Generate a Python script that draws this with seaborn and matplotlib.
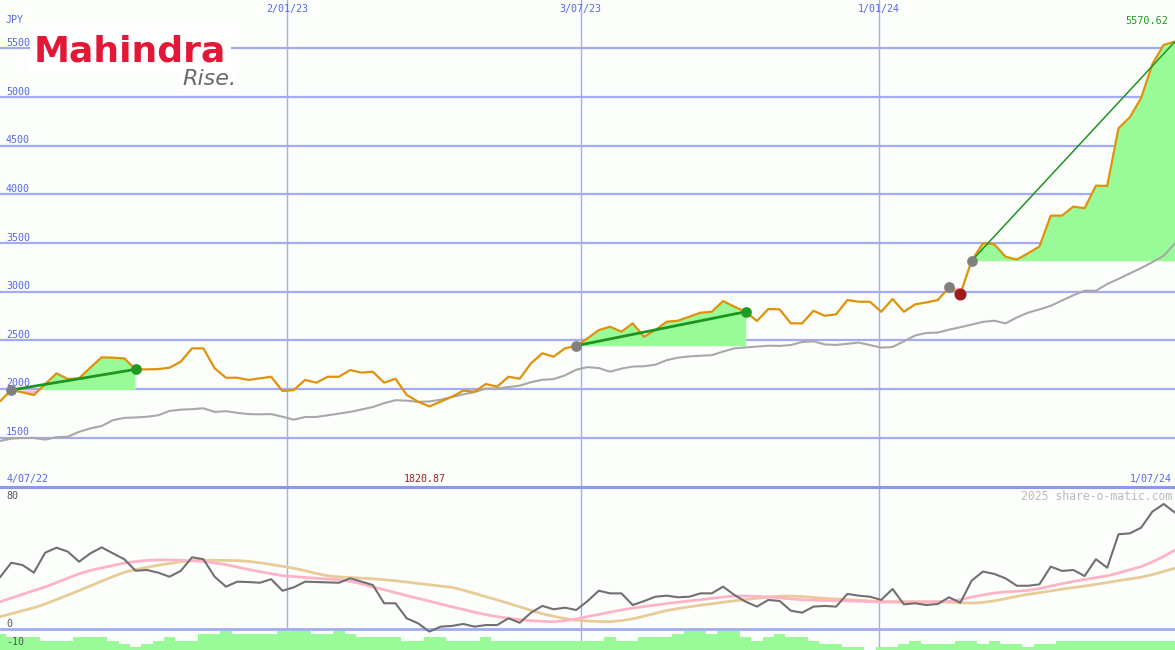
import numpy as np
import seaborn as sns
import matplotlib.pyplot as plt

W, H = 1175, 650

# weekly closes (JPY), 4/07/22 .. 1/07/24
price = [1873, 1990, 1965, 1938, 2050, 2161, 2103, 2110, 2220, 2326,
         2322, 2315, 2202, 2202, 2205, 2219, 2281, 2418, 2418, 2213,
         2116, 2116, 2093, 2110, 2126, 1980, 1990, 2093, 2065, 2126,
         2126, 2195, 2168, 2178, 2065, 2106, 1939, 1870, 1820.87, 1870,
         1921, 1983, 1972, 2051, 2024, 2126, 2106, 2264, 2367, 2332,
         2418, 2445, 2520, 2606, 2640, 2589, 2675, 2537, 2606, 2691,
         2702, 2743, 2784, 2794, 2904, 2846, 2794, 2699, 2822, 2819,
         2675, 2675, 2804, 2753, 2767, 2914, 2897, 2897, 2794, 2925,
         2794, 2870, 2890, 2914, 3045, 2976, 3318, 3498, 3488, 3360,
         3330, 3395, 3465, 3782, 3782, 3875, 3858, 4090, 4087, 4680,
         4793, 4990, 5340, 5537, 5570.62]

# slow moving average (grey)
avg = [1466, 1490, 1497, 1497, 1480, 1505, 1510, 1560, 1595, 1620,
       1680, 1703, 1708, 1715, 1730, 1775, 1788, 1793, 1802, 1765,
       1772, 1755, 1742, 1740, 1742, 1715, 1685, 1712, 1713, 1730,
       1747, 1765, 1790, 1815, 1855, 1885, 1880, 1868, 1872, 1890,
       1918, 1945, 1968, 2005, 2005, 2020, 2035, 2070, 2095, 2102,
       2140, 2198, 2225, 2215, 2178, 2210, 2231, 2234, 2250, 2296,
       2322, 2335, 2342, 2348, 2385, 2418, 2427, 2436, 2445, 2443,
       2452, 2483, 2490, 2458, 2453, 2465, 2477, 2452, 2425, 2432,
       2490, 2550, 2576, 2580, 2610, 2635, 2662, 2690, 2702, 2675,
       2735, 2785, 2818, 2855, 2910, 2963, 3010, 3010, 3079, 3132,
       3188, 3243, 3304, 3370, 3498]

# lower panel oscillator and its two averages
osc = [29.5, 37.7, 36.4, 32.1, 43.4, 46.2, 44.0, 38.3, 43.0, 46.4,
       43.0, 39.7, 33.2, 33.6, 32.1, 29.8, 33.1, 40.8, 39.7, 29.8,
       24.2, 27.0, 26.8, 26.4, 28.4, 21.9, 23.8, 27.0, 26.8, 26.6,
       26.4, 28.9, 27.0, 25.1, 14.8, 14.8, 6.3, 3.5, -1.2, 1.6,
       2.0, 3.1, 1.6, 2.5, 2.5, 6.3, 3.8, 9.5, 13.3, 11.4,
       12.3, 11.0, 16.0, 21.9, 20.4, 20.4, 13.8, 16.0, 18.5, 19.1,
       18.2, 18.5, 20.4, 20.4, 24.2, 19.5, 15.7, 12.9, 16.7, 16.1,
       10.6, 9.5, 12.9, 13.3, 12.9, 20.1, 19.1, 18.5, 16.7, 22.9,
       14.2, 14.8, 13.8, 14.4, 18.2, 15.1, 27.6, 32.7, 31.4, 28.9,
       24.7, 24.7, 25.5, 35.5, 33.1, 33.6, 30.2, 39.7, 34.9, 53.8,
       54.3, 57.5, 66.6, 70.9, 66.0]

osc_fast = [15.7, 17.8, 19.9, 22.0, 24.0, 26.5, 29.0, 31.5, 33.4, 34.8,
            36.2, 37.5, 38.4, 39.0, 39.3, 39.3, 39.1, 38.8, 38.4, 37.6,
            36.6, 35.3, 33.9, 32.7, 31.5, 30.4, 29.9, 29.4, 28.9, 28.5,
            28.1, 27.2, 25.8, 24.0, 22.5, 20.8, 19.1, 17.6, 16.0, 14.4,
            12.8, 11.3, 9.8, 8.4, 7.2, 6.3, 5.6, 4.9, 4.6, 4.4,
            4.9, 6.0, 7.3, 8.5, 9.8, 11.0, 12.1, 13.0, 13.8, 14.6,
            15.4, 16.1, 16.8, 17.6, 18.3, 18.9, 18.9, 18.7, 18.4, 17.9,
            17.3, 16.8, 16.6, 16.4, 16.3, 16.2, 16.0, 15.7, 15.5, 15.5,
            15.4, 15.4, 15.5, 15.7, 15.9, 16.8, 18.3, 19.5, 20.6, 21.2,
            21.6, 22.1, 23.1, 24.5, 25.9, 27.1, 28.2, 29.3, 30.3, 31.9,
            33.7, 35.5, 38.2, 41.3, 44.9]

osc_slow = [7.2, 8.9, 10.6, 12.3, 14.4, 16.9, 19.4, 22.0, 24.6, 27.3,
            29.9, 32.3, 33.8, 35.1, 36.3, 37.3, 38.3, 38.9, 39.1, 39.1,
            39.0, 38.9, 38.5, 37.7, 36.7, 35.7, 34.6, 33.2, 31.6, 30.3,
            29.7, 29.3, 29.0, 28.6, 28.1, 27.5, 26.8, 26.0, 25.3, 24.5,
            23.8, 22.2, 20.4, 18.5, 16.7, 14.8, 12.8, 10.8, 8.9, 7.5,
            6.1, 5.2, 4.8, 4.5, 4.4, 5.0, 6.0, 7.5, 9.1, 10.7,
            11.8, 12.8, 13.7, 14.5, 15.4, 16.2, 16.9, 17.6, 18.3, 18.8,
            18.9, 18.6, 18.1, 17.6, 17.2, 16.9, 16.5, 16.1, 15.7, 15.7,
            15.7, 15.7, 15.7, 15.6, 15.4, 15.1, 14.9, 15.3, 16.2, 17.4,
            18.7, 19.9, 20.8, 21.8, 22.8, 23.7, 24.5, 25.5, 26.5, 27.6,
            28.6, 29.5, 31.0, 32.8, 34.6]

# relative weekly volume level (bottom strip)
vol = [5, 4, 4, 4, 3, 3, 3, 4, 4, 4, 3, 2, 1, 2, 3, 4, 3, 3, 5, 5,
       6, 5, 5, 5, 5, 6, 6, 6, 5, 5, 6, 5, 4, 4, 4, 4, 3, 3, 4, 4,
       3, 3, 3, 4, 3, 3, 3, 3, 3, 3, 3, 3, 3, 3, 4, 3, 3, 4, 4, 4,
       5, 6, 6, 5, 6, 6, 4, 3, 4, 5, 4, 4, 3, 2, 2, 1, 1, 0, 1, 1,
       2, 3, 2, 2, 2, 3, 3, 2, 3, 2, 2, 1, 2, 2, 3, 3, 3, 3, 3, 3,
       3, 3, 3, 3, 3]

# trade signals: (start week, end week, kind)
signals = [(1, 12, 'up'), (51, 66, 'up'), (84, 85, 'down'), (86, 104, 'open')]

y_ticks = [1500, 2000, 2500, 3000, 3500, 4000, 4500, 5000, 5500]
date_grid = [25.4, 51.4, 77.8]
date_labels = ['2/01/23', '3/07/23', '1/01/24']

bg = '#FCFEFC'
grid_c = '#A3ACF2'
blue_txt = '#5566EE'
orange = '#E0920A'
pale_green = '#98FB98'
pink = '#FFB6C1'
trend_green = '#1E951E'

price = np.array(price)
weeks = np.arange(len(price))
vol = np.array(vol)

sns.set_style('white')
plt.rcParams['font.family'] = ['DejaVu Sans Mono']

fig = plt.figure(figsize=(W / 100, H / 100), dpi=100)
fig.patch.set_facecolor(bg)
ax = fig.add_axes([0, 163 / H, 1, 487 / H])
ax2 = fig.add_axes([0, 0, 1, 163 / H])

for a in (ax, ax2):
    a.set_facecolor(bg)
    a.set_xlim(0, len(price) - 1)
    a.set_xticks([])
    a.set_yticks([])
    for s in a.spines.values():
        s.set_visible(False)
    for g in date_grid:
        a.axvline(g, color=grid_c, lw=1, zorder=0)

ax.set_ylim(993, 5998)
ax2.set_ylim(-11.6, 80.5)
# thick separator between the panels
ax2.spines['top'].set_visible(True)
ax2.spines['top'].set_color('#8C98EE')
ax2.spines['top'].set_linewidth(2.2)

# top panel
for v in y_ticks:
    ax.axhline(v, color=grid_c, lw=1.6, zorder=0)
    ax.annotate(str(v), xy=(0, v), xycoords=('axes fraction', 'data'),
                xytext=(4.3, 4), textcoords='offset points',
                va='center', ha='left', fontsize=7.2, color=blue_txt)

for s, e, kind in signals:
    xs = weeks[s:e + 1]
    ys = price[s:e + 1]
    base = price[s]
    ax.fill_between(xs, ys, base, where=ys >= base, interpolate=True,
                    color=pale_green, lw=0, zorder=1)
    ax.fill_between(xs, ys, base, where=ys <= base, interpolate=True,
                    color=pink, lw=0, zorder=1)

sns.lineplot(x=weeks, y=avg, ax=ax, color='#A8A8A8', lw=1.5, zorder=2)
sns.lineplot(x=weeks, y=price, ax=ax, color=orange, lw=1.6, zorder=3)

for s, e, kind in signals:
    if kind != 'down':
        ax.plot([s, e], [price[s], price[e]], color=trend_green,
                lw=2 if kind == 'up' else 1.1, zorder=4)
    ax.scatter([s], [price[s]], s=60, color='#808080', zorder=5, lw=0)
    if kind == 'up':
        ax.scatter([e], [price[e]], s=60, color='#229922', zorder=5, lw=0)
    elif kind == 'down':
        ax.scatter([e], [price[e]], s=75, color='#A01C1C', zorder=5, lw=0)

# bottom panel
ax2.axhline(0, color=grid_c, lw=2, zorder=0)
ax2.bar(weeks, vol * 1.78, bottom=-11.6, width=1.0, color=pale_green,
        lw=0, zorder=1)
sns.lineplot(x=weeks, y=osc_slow, ax=ax2, color='#E8CC98', lw=2, zorder=2)
sns.lineplot(x=weeks, y=osc_fast, ax=ax2, color='#FFB3C8', lw=2, zorder=2)
sns.lineplot(x=weeks, y=osc, ax=ax2, color='#707070', lw=1.5, zorder=3)

# labels
def ptext(x, y, s, **kw):
    fig.text(x / W, 1 - y / H, s, va='center', **kw)

ptext(6, 20, 'JPY', fontsize=7.2, color=blue_txt)
for g, lab in zip(date_grid, date_labels):
    ax.annotate(lab, xy=(g, 1), xycoords=('data', 'axes fraction'),
                xytext=(0, -6.5), textcoords='offset points',
                ha='center', va='center', fontsize=7.2, color=blue_txt)
ptext(1168, 21, f'{price[-1]:.2f}', fontsize=7.3, color='#229922', ha='right')
ptext(7, 479, '4/07/22', fontsize=7.2, color=blue_txt)
ptext(1172, 479, '1/07/24', fontsize=7.2, color=blue_txt, ha='right')
ax.annotate(f'{price.min():.2f}', xy=(weeks[price.argmin()] - 0.4, 0),
            xycoords=('data', 'axes fraction'), xytext=(0, 5.7),
            textcoords='offset points', ha='center', va='center',
            fontsize=7.2, color='#A02020')
ptext(1172, 496, '2025 share-o-matic.com', fontsize=8.3, color='#BBBBBB',
      ha='right')
ptext(6, 496, '80', fontsize=7.2, color='#555555')
ptext(6, 624, '0', fontsize=7.2, color='#555555')
ptext(6, 642, '-10', fontsize=7.2, color='#555555')

# logo
ptext(34, 51, 'Mahindra', fontsize=26, fontweight='bold', color='#E31837',
      family='DejaVu Sans', zorder=6,
      bbox=dict(facecolor='white', edgecolor='none', pad=3))
ptext(237, 79, 'Rise.', fontsize=16, style='italic', color='#6A6A6A',
      family='DejaVu Sans', ha='right', zorder=6,
      bbox=dict(facecolor='white', edgecolor='none', pad=1))

fig.savefig('out.png', dpi=100, facecolor=bg)
